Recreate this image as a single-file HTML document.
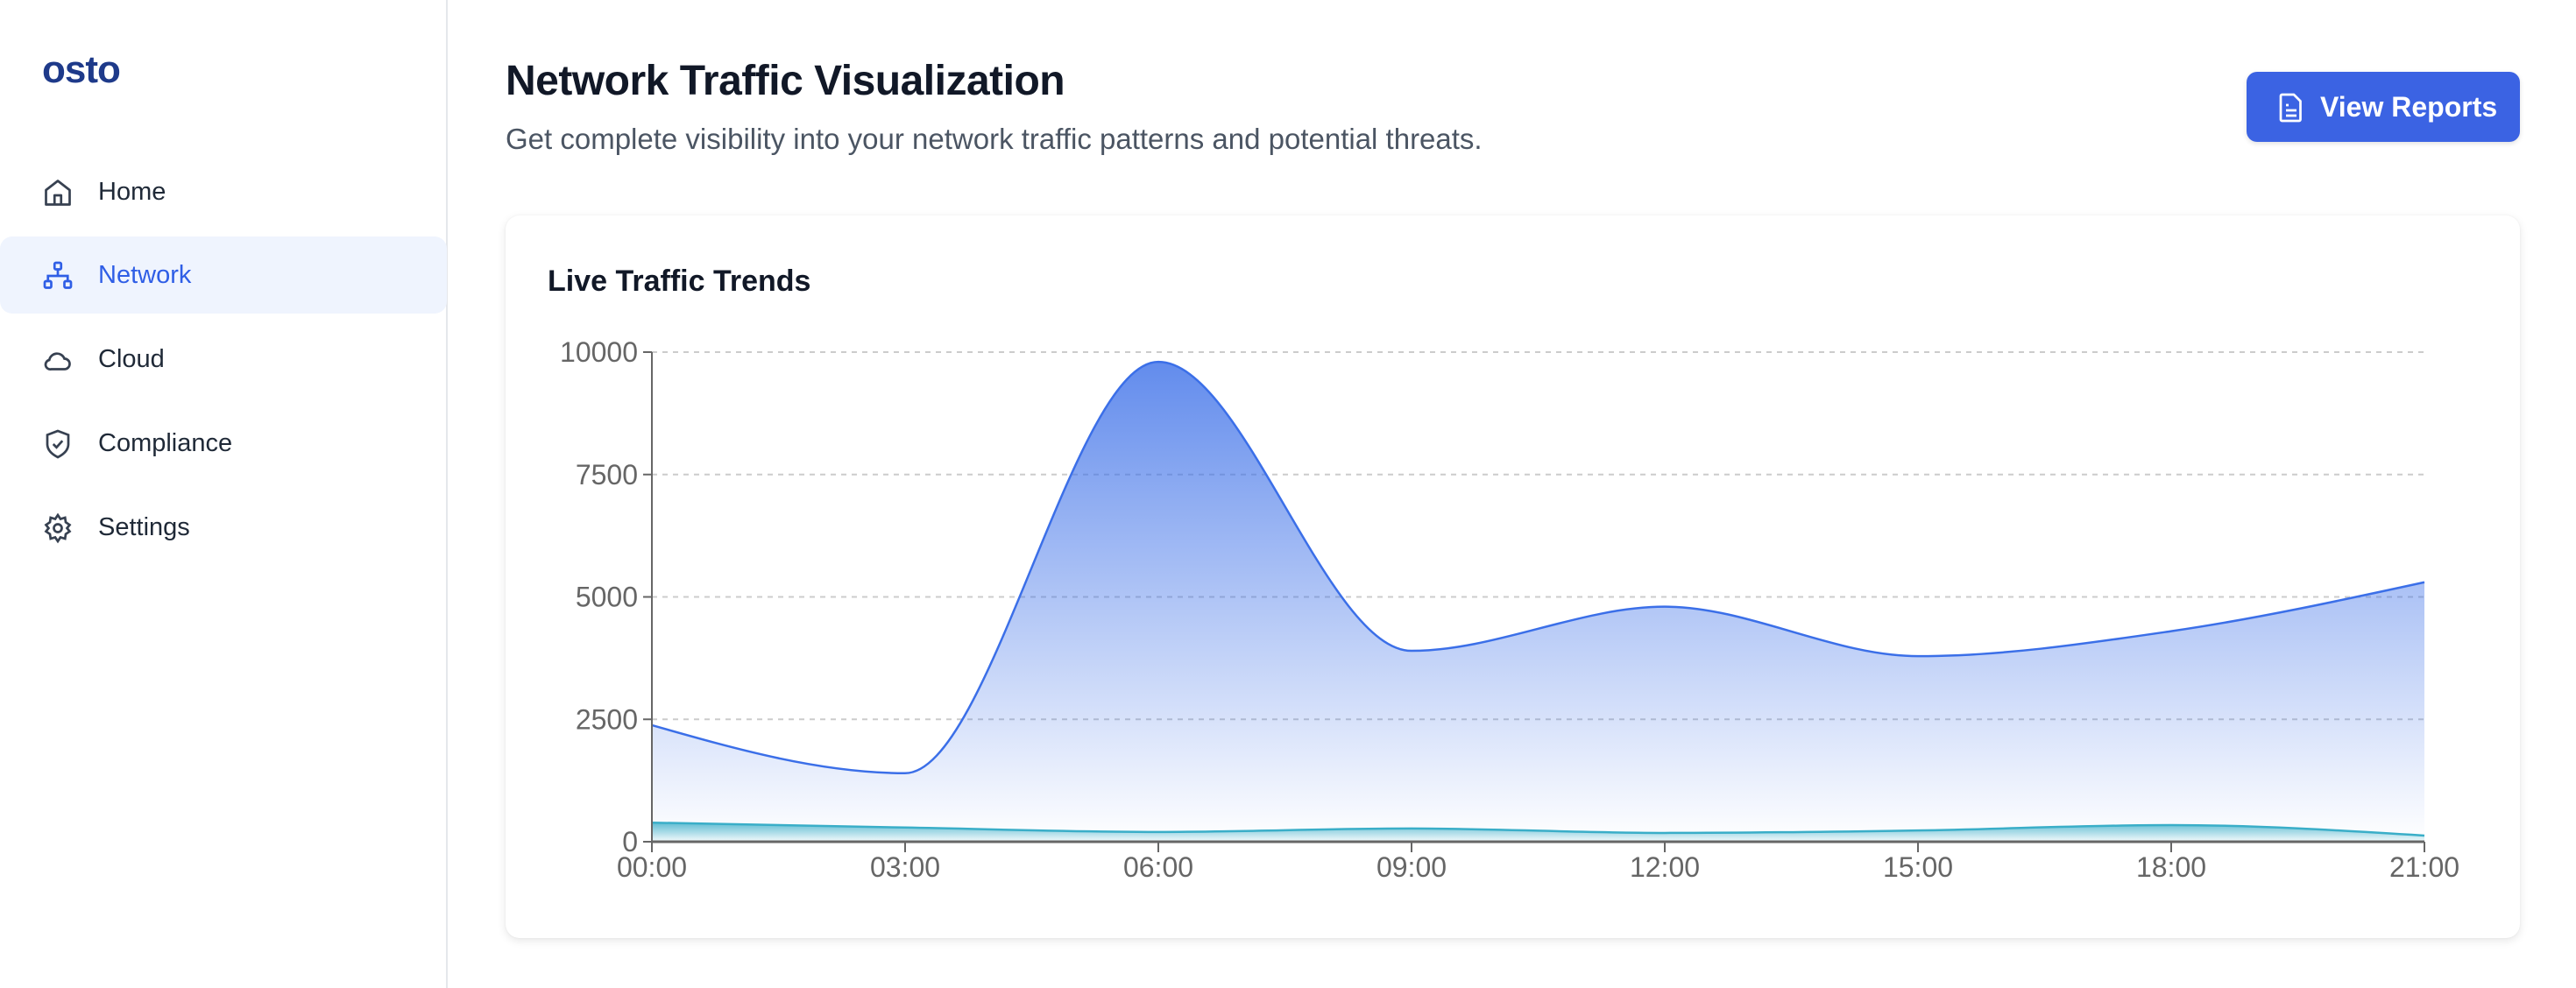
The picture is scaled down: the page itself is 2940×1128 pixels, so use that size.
<!DOCTYPE html>
<html><head><meta charset="utf-8"><style>
*{margin:0;padding:0;box-sizing:border-box}
body{width:2940px;height:1128px;background:#fff;font-family:"Liberation Sans",sans-serif;position:relative;overflow:hidden}
.sidebar{position:absolute;left:0;top:0;width:511px;height:1128px;border-right:2px solid #e5e7eb;background:#fff}
.logo{position:absolute;left:48px;top:55px;font-size:44px;font-weight:bold;color:#1e3a8a;letter-spacing:-1px}
.nav{position:absolute;left:0;width:510px;height:88px;display:flex;align-items:center;font-size:29px;color:#1f2937;border-radius:14px}
.nav svg{position:absolute;left:48px;top:26px}
.nav span{position:absolute;left:112px}
.nav.active{background:#eff4fe;color:#2f5ee6}
h1{position:absolute;left:577px;top:65px;font-size:48px;font-weight:bold;color:#111827;letter-spacing:-0.5px}
.sub{position:absolute;left:577px;top:140px;font-size:33px;color:#4b5563}
.btn{position:absolute;left:2564px;top:82px;width:312px;height:80px;background:#3b63e3;border-radius:12px;color:#fff;font-size:32px;font-weight:bold;box-shadow:0 2px 6px rgba(0,0,0,.12)}
.btn span{position:absolute;left:84px;top:22px}
.btn svg{position:absolute;left:36px;top:23px}
.card{position:absolute;left:577px;top:246px;width:2299px;height:825px;background:#fff;border-radius:16px;box-shadow:0 3px 10px rgba(0,0,0,.10),0 0 2px rgba(0,0,0,.05)}
.ctitle{position:absolute;left:625px;top:302px;font-size:34px;font-weight:bold;color:#111827}
#chart{position:absolute;left:0;top:0}
</style></head><body>
<div class="sidebar">
<div class="logo">osto</div>
<div class="nav" style="top:175px"><svg width="36" height="38" viewBox="0 0 24 24" fill="none" stroke="#374151" stroke-width="1.8" stroke-linejoin="round"><path d="M3 10L12 3l9 7v11H3z"/><path d="M9.5 21v-7h5v7"/></svg><span>Home</span></div>
<div class="nav active" style="top:270px"><svg width="36" height="38" viewBox="0 0 24 24" fill="none" stroke="#2f5ee6" stroke-width="1.8"><rect x="9.5" y="2" width="5" height="5" rx="1"/><rect x="2" y="16" width="5" height="5" rx="1"/><rect x="17" y="16" width="5" height="5" rx="1"/><path d="M12 7v5M4.5 16v-4h15v4"/></svg><span>Network</span></div>
<div class="nav" style="top:366px"><svg width="36" height="38" viewBox="0 0 24 24" fill="none" stroke="#374151" stroke-width="1.8"><path d="M7 19h10a4 4 0 0 0 0-8 6 6 0 0 0-11.5 1A3.5 3.5 0 0 0 7 19z"/></svg><span>Cloud</span></div>
<div class="nav" style="top:462px"><svg width="36" height="38" viewBox="0 0 24 24" fill="none" stroke="#374151" stroke-width="1.8"><path d="M12 2l8 3v7c0 5-4 8-8 10-4-2-8-5-8-10V5z"/><path d="M8.5 12l2.5 2.5 4.5-5"/></svg><span>Compliance</span></div>
<div class="nav" style="top:558px"><svg width="36" height="38" viewBox="0 0 24 24" fill="none" stroke="#374151" stroke-width="1.8"><circle cx="12" cy="12" r="3"/><path d="M12 2l2 3 3.5-1 .5 3.5 3 2-2 2.5 2 2.5-3 2-.5 3.5-3.5-1-2 3-2-3-3.5 1-.5-3.5-3-2 2-2.5-2-2.5 3-2 .5-3.5 3.5 1z"/></svg><span>Settings</span></div>
</div>
<h1>Network Traffic Visualization</h1>
<div class="sub">Get complete visibility into your network traffic patterns and potential threats.</div>
<div class="btn"><svg width="30" height="36" viewBox="0 0 20 24" fill="none" stroke="#fff" stroke-width="1.8" stroke-linejoin="round"><path d="M3 2h9l5 5v14a1 1 0 0 1-1 1H3a1 1 0 0 1-1-1V3a1 1 0 0 1 1-1z"/><path d="M6 10h2M6 14h8M6 18h8"/></svg><span>View Reports</span></div>
<div class="card"></div>
<div class="ctitle">Live Traffic Trends</div>
<svg id="chart" width="2940" height="1128">
<defs>
<linearGradient id="gb" x1="0" y1="0" x2="0" y2="1"><stop offset="0" stop-color="#3b6fe8" stop-opacity="0.8"/><stop offset="1" stop-color="#3b6fe8" stop-opacity="0"/></linearGradient>
<linearGradient id="gt" x1="0" y1="0" x2="0" y2="1"><stop offset="0" stop-color="#3aaec8" stop-opacity="0.8"/><stop offset="1" stop-color="#3aaec8" stop-opacity="0.05"/></linearGradient>
</defs>
</svg>
<script>
const categories = ["00:00","03:00","06:00","09:00","12:00","15:00","18:00","21:00"];
const inboundValues = [2380,1400,9800,3900,4800,3790,4300,5300];
const threatValues = [390,290,200,270,180,230,340,125];
const yTicks = [0,2500,5000,7500,10000];
const yMax = 10000;
const X0=744,X1=2767,Y0=961,Y1=402;
const svg=document.getElementById('chart');
const NS='http://www.w3.org/2000/svg';
function xs(i){return X0+(X1-X0)*i/(categories.length-1);}
function ys(v){return Y0-(Y0-Y1)*v/yMax;}
function mk(tag,attrs){const e=document.createElementNS(NS,tag);for(const k in attrs)e.setAttribute(k,attrs[k]);svg.appendChild(e);return e;}
function monotone(pts){
  const n=pts.length,dx=[],m=[],t=[];
  for(let i=0;i<n-1;i++){dx.push(pts[i+1][0]-pts[i][0]);m.push((pts[i+1][1]-pts[i][1])/dx[i]);}
  for(let i=0;i<n;i++){
    if(i===0)t.push(m[0]);else if(i===n-1)t.push(m[n-2]);
    else{ if(m[i-1]*m[i]<=0)t.push(0); else{const p=(m[i-1]*dx[i]+m[i]*dx[i-1])/(dx[i-1]+dx[i]);t.push((Math.sign(m[i-1])+Math.sign(m[i]))*Math.min(Math.abs(m[i-1]),Math.abs(m[i]),0.5*Math.abs(p)));}}
  }
  t[0]=(3*m[0]-t[1])/2; t[n-1]=(3*m[n-2]-t[n-2])/2;
  let d='M'+pts[0][0]+','+pts[0][1];
  for(let i=0;i<n-1;i++){const h=dx[i]/3;d+=' C'+(pts[i][0]+h)+','+(pts[i][1]+h*t[i])+' '+(pts[i+1][0]-h)+','+(pts[i+1][1]-h*t[i+1])+' '+pts[i+1][0]+','+pts[i+1][1];}
  return d;
}
yTicks.forEach(v=>{
  if(v>0){const g=mk('line',{x1:X0,x2:X1,y1:ys(v),y2:ys(v),stroke:'#ccc','stroke-width':2,'stroke-dasharray':'6 6'});
  
  }
  const tk=mk('line',{x1:X0-10,x2:X0,y1:ys(v),y2:ys(v),stroke:'#666','stroke-width':2});
  
  
  const t=mk('text',{x:X0-16,y:ys(v)+11,'text-anchor':'end','font-size':32,fill:'#666','font-family':'Liberation Sans, sans-serif'});
  t.textContent=v;
  
  
});
function series(vals,fill,stroke,name){
  const pts=vals.map((v,i)=>[xs(i),ys(v)]);
  const d=monotone(pts);
  const a=mk('path',{d:d+' L'+X1+','+Y0+' L'+X0+','+Y0+' Z',fill:fill});
  
  
  const l=mk('path',{d:d,fill:'none',stroke:stroke,'stroke-width':2.5});
  
  
}
series(inboundValues,'url(#gb)','#3b6fe8','inbound-traffic');
series(threatValues,'url(#gt)','#3aaec8','threat-traffic');
const ya=mk('line',{x1:X0,x2:X0,y1:Y1,y2:Y0,stroke:'#666','stroke-width':2});


const xa=mk('line',{x1:X0,x2:X1,y1:Y0,y2:Y0,stroke:'#666','stroke-width':3});


categories.forEach((c,i)=>{
  const tk=mk('line',{x1:xs(i),x2:xs(i),y1:Y0,y2:Y0+12,stroke:'#666','stroke-width':2});
  
  
  const t=mk('text',{x:xs(i),y:1001,'text-anchor':'middle','font-size':32,fill:'#666','font-family':'Liberation Sans, sans-serif'});
  t.textContent=c;
  
  
});
</script>
</body></html>
